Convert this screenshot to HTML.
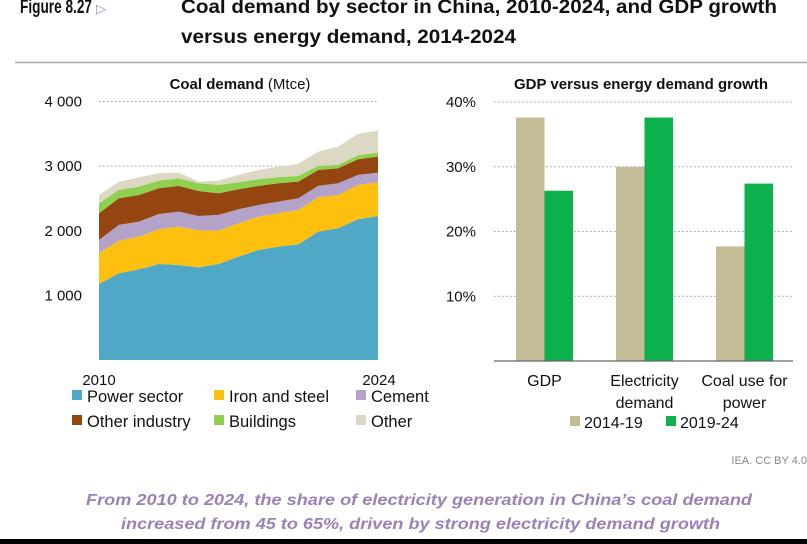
<!DOCTYPE html>
<html><head><meta charset="utf-8"><style>
body{margin:0;background:#fff;width:807px;height:544px;overflow:hidden;font-family:"Liberation Sans",sans-serif}
svg{display:block}
</style></head><body>
<svg id="s" width="807" height="544" xmlns="http://www.w3.org/2000/svg">
<text x="20" y="13" font-size="19" font-weight="bold" fill="#111" textLength="72" lengthAdjust="spacingAndGlyphs">Figure 8.27</text>
<text x="96" y="13" font-size="13" fill="#a08cc0">▷</text>
<text x="181" y="13" font-size="19" font-weight="bold" fill="#111" textLength="596" lengthAdjust="spacingAndGlyphs">Coal demand by sector in China, 2010-2024, and GDP growth</text>
<text x="181" y="43" font-size="19" font-weight="bold" fill="#111" textLength="335" lengthAdjust="spacingAndGlyphs">versus energy demand, 2014-2024</text>
<line x1="15" y1="62.5" x2="807" y2="62.5" stroke="#aaa" stroke-width="1.5"/>
<text x="240" y="89" font-size="15" text-anchor="middle" fill="#111"><tspan font-weight="bold">Coal demand</tspan> (Mtce)</text>
<text x="641" y="89" font-size="15" font-weight="bold" text-anchor="middle" fill="#111">GDP versus energy demand growth</text>
<g id="left"></g><g id="right"></g>
<text x="86" y="505" font-size="16" font-style="italic" font-weight="bold" fill="#9a82b8" textLength="666" lengthAdjust="spacingAndGlyphs">From 2010 to 2024, the share of electricity generation in China’s coal demand</text>
<text x="121" y="529" font-size="16" font-style="italic" font-weight="bold" fill="#9a82b8" textLength="599" lengthAdjust="spacingAndGlyphs">increased from 45 to 65%, driven by strong electricity demand growth</text>
<text x="807" y="464" font-size="11" fill="#888" text-anchor="end">IEA. CC BY 4.0</text>
<rect x="0" y="539" width="807" height="5" fill="#000"/>
</svg>
<script>
const years=[2010,2011,2012,2013,2014,2015,2016,2017,2018,2019,2020,2021,2022,2023,2024];
const sectorNames=["Power sector","Iron and steel","Cement","Other industry","Buildings","Other"];
const power=[1176,1342,1403,1486,1470,1434,1486,1600,1703,1754,1790,1987,2038,2178,2229];
const iron=[475,505,506,537,594,568,516,515,516,516,532,531,516,531,521];
const cement=[207,243,232,237,232,227,243,217,180,181,181,176,181,155,150];
const otherInd=[412,413,413,397,398,387,335,310,295,284,258,247,232,242,248];
const buildings=[155,129,129,119,118,119,129,108,103,93,87,62,52,62,62];
const other=[129,129,145,114,88,26,67,114,144,165,186,222,283,331,340];
const leftTicks=[1000,2000,3000,4000];
const leftTickLabels=["1 000","2 000","3 000","4 000"];
const barCats=[["GDP"],["Electricity","demand"],["Coal use for","power"]];
const s1419=[37.6,30.0,17.7];
const s1924=[26.3,37.6,27.4];
const rightTicks=[10,20,30,40];
const seriesNames=["2014-19","2019-24"];

const NS="http://www.w3.org/2000/svg";
function mk(tag,attrs,parent,txt){const e=document.createElementNS(NS,tag);for(const k in attrs)e.setAttribute(k,attrs[k]);if(txt!==undefined)e.textContent=txt;parent.appendChild(e);return e;}
const L=document.getElementById('left'),R=document.getElementById('right');
const lx=i=>99+i*(279/(years.length-1));
const ly=v=>360-v*(258.5/4000);
leftTicks.forEach((t,i)=>{
  const g=mk('line',{x1:99,x2:379,y1:ly(t),y2:ly(t),stroke:'#999','stroke-dasharray':'1.5 2.5','stroke-width':1},L);
  
  const tx=mk('text',{x:82,y:ly(t)+5,'font-size':15,'text-anchor':'end',fill:'#111'},L,leftTickLabels[i]);
  
});
const series=[power,iron,cement,otherInd,buildings,other];
const colors=["#4fa9c6","#fdc00f","#b4a3c9","#944510","#8fd14f","#dcd8c4"];
const cum=years.map(()=>0);
series.forEach((sr,si)=>{
  const lower=cum.slice();
  sr.forEach((v,i)=>cum[i]+=v);
  let d='M'+years.map((y,i)=>lx(i)+','+ly(cum[i])).join('L');
  for(let i=years.length-1;i>=0;i--)d+='L'+lx(i)+','+ly(lower[i]);
  const p=mk('path',{d:d+'Z',fill:colors[si]},L);
  
  
});
let t=mk('text',{x:99,y:385,'font-size':15,'text-anchor':'middle',fill:'#111'},L,String(years[0]));

t=mk('text',{x:379,y:385,'font-size':15,'text-anchor':'middle',fill:'#111'},L,String(years[years.length-1]));

const legPos=[[72,401],[214,401],[356,401],[72,426],[214,426],[356,426]];
sectorNames.forEach((n,i)=>{
  const r=mk('rect',{x:legPos[i][0],y:legPos[i][1]-11,width:10,height:10,fill:colors[i]},L);
  
  const tx=mk('text',{x:legPos[i][0]+15,y:legPos[i][1]+1,'font-size':16.5,fill:'#111'},L,n);
  
});
const ry=v=>361-v*(259/40);
const groupX=[516,616,716],bw=28.5;
rightTicks.forEach(tk=>{
  const g=mk('line',{x1:494,x2:793,y1:ry(tk),y2:ry(tk),stroke:'#999','stroke-dasharray':'1.5 2.5','stroke-width':1},R);
  
  const tx=mk('text',{x:476,y:ry(tk)+5,'font-size':15,'text-anchor':'end',fill:'#111'},R,tk+'%');
  
});
const bcol=["#c4bb97","#0cb14b"];
[s1419,s1924].forEach((sr,si)=>{
  sr.forEach((v,i)=>{
    const r=mk('rect',{x:groupX[i]+si*bw,y:ry(v),width:bw,height:ry(0)-ry(v),fill:bcol[si]},R);
    
  });
});
const ax=mk('line',{x1:494,x2:793,y1:361,y2:361,stroke:'#666','stroke-width':1.2},R);

barCats.forEach((c,i)=>{
  c.forEach((ln,j)=>{
    const tx=mk('text',{x:groupX[i]+bw,y:386+j*22,'font-size':16,'text-anchor':'middle',fill:'#111'},R,ln);
    
  });
});
const rl=[[570,427],[666,427]];
seriesNames.forEach((n,i)=>{
  const r=mk('rect',{x:rl[i][0],y:rl[i][1]-11,width:10,height:10,fill:bcol[i]},R);
  
  const tx=mk('text',{x:rl[i][0]+14,y:rl[i][1]+1,'font-size':16,fill:'#111'},R,n);
  
});
</script>
</body></html>
